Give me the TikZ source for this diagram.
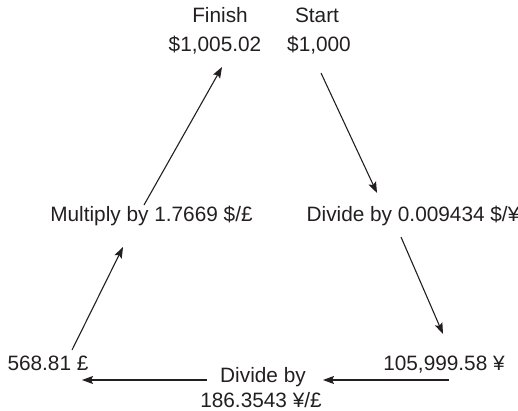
\documentclass[tikz,border=0pt]{standalone}
\usepackage{fontspec}
\setmainfont{Liberation Sans}
\usetikzlibrary{arrows.meta}
\definecolor{ink}{HTML}{231F20}
\begin{document}
\begin{tikzpicture}[x=1pt,y=-1pt,
  lbl/.style={anchor=base,inner sep=0pt,text=ink,font=\fontsize{20.8}{24}\selectfont},
  conn/.style={draw=ink,line width=1.1pt,-{Stealth[length=11pt,width=8pt,inset=2pt]}}]
\useasboundingbox (0,0) rectangle (518,411);
% labels
\node[lbl] (fin) at (220,23) {Finish};
\node[lbl] (finv) at (215,52) {\$1,005.02};
\node[lbl] (sta) at (317,23) {Start};
\node[lbl] (stav) at (319,52) {\$1,000};
\node[lbl] (mul) at (151.5,222) {Multiply by 1.7669 \$/£};
\node[lbl] (divy) at (413,222) {Divide by 0.009434 \$/¥};
\node[lbl] (pnd) at (48,370) {568.81 £};
\node[lbl] (yen) at (444,370) {105,999.58 ¥};
\node[lbl] (divp) at (263,382) {Divide by};
\node[lbl] (divpv) at (261,407) {186.3543 ¥/£};
% connector ends
\coordinate (a1) at (321,73);  \coordinate (b1) at (377,193);
\coordinate (a2) at (401,237); \coordinate (b2) at (443,334);
\coordinate (a3) at (449,380); \coordinate (b3) at (323,380);
\coordinate (a4) at (207,380); \coordinate (b4) at (82,380);
\coordinate (a5) at (72,350);  \coordinate (b5) at (123,247);
\coordinate (a6) at (144,205); \coordinate (b6) at (222,67);
\draw[conn] (a1) -- (b1);
\draw[conn] (a2) -- (b2);
\draw[conn] (a3) -- (b3);
\draw[conn] (a4) -- (b4);
\draw[conn] (a5) -- (b5);
\draw[conn] (a6) -- (b6);
\end{tikzpicture}
\end{document}
